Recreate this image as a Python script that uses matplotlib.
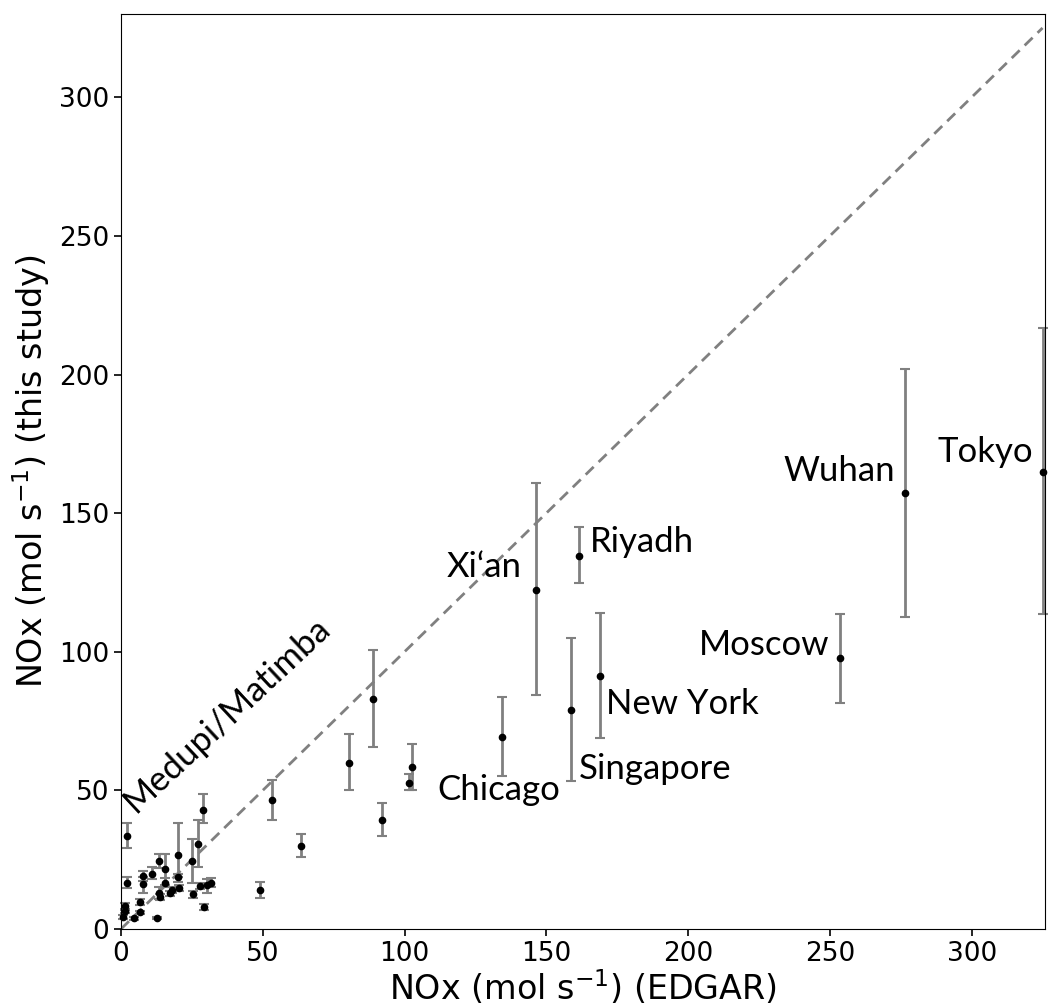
import numpy as np
import matplotlib
matplotlib.use("Agg")
import matplotlib.pyplot as plt

# EDGAR NOx vs NOx from this study (mol s-1), lower / upper bounds of the error bars
edgar = [2.2, 2.2, 1.6, 1.6, 0.8, 4.6, 6.7, 6.7, 7.6, 7.9,
         10.8, 12.6, 13.5, 13.5, 13.8, 15.7, 15.7, 17.3, 17.9, 20.0,
         20.2, 20.6, 24.9, 25.5, 27.2, 29.0, 27.8, 29.3, 30.2, 31.7,
         49.2, 53.4, 63.6, 80.3, 88.8, 92.1, 101.5, 102.7,
         134.3, 146.4, 158.7, 161.5, 169.0, 253.6, 276.6, 325.0]
study = [33.6, 16.5, 8.3, 6.6, 4.4, 3.9, 9.8, 6.0, 16.1, 19.2,
         19.8, 3.9, 24.4, 13.1, 11.6, 21.7, 16.7, 12.9, 14.0, 26.8,
         18.6, 14.9, 24.4, 12.6, 30.6, 43.1, 15.6, 8.0, 15.8, 16.7,
         14.0, 46.5, 29.9, 60.0, 83.1, 39.3, 52.7, 58.4,
         69.2, 122.4, 79.1, 134.7, 91.3, 97.7, 157.3, 165.0]
study_lo = [29.3, 14.7, 7.0, 5.8, 3.8, 3.4, 8.8, 5.4, 13.1, 17.5,
            18.0, 3.5, 22.0, 11.0, 10.5, 16.0, 15.0, 12.0, 13.0, 18.8,
            17.0, 13.8, 16.5, 11.3, 22.2, 38.1, 14.5, 7.0, 13.0, 15.0,
            11.1, 39.5, 26.0, 50.1, 65.6, 33.5, 50.3, 50.1,
            55.1, 84.5, 53.3, 124.7, 69.0, 81.6, 112.5, 113.7]
study_hi = [38.1, 18.6, 9.5, 7.4, 5.0, 4.4, 10.8, 6.6, 18.6, 21.0,
            22.5, 4.3, 27.0, 15.0, 12.8, 27.0, 18.5, 13.8, 15.0, 38.1,
            20.0, 16.0, 32.3, 13.8, 39.3, 48.6, 16.7, 9.0, 18.0, 18.5,
            17.0, 53.7, 34.1, 70.2, 100.5, 45.3, 55.8, 66.6,
            83.7, 160.9, 104.9, 144.9, 114.0, 113.7, 202.1, 216.7]

# labelled cities: name, index into the arrays, pixel offset of the text, alignment
cities = [("Chicago", 38, (58, -53), "right"),
          ("Xi\u2018an", 39, (-14, 23), "right"),
          ("Singapore", 40, (8, -59), "left"),
          ("Riyadh", 41, (11, 14), "left"),
          ("New York", 42, (6, -28), "left"),
          ("Moscow", 43, (-11, 13), "right"),
          ("Wuhan", 44, (-10, 22), "right"),
          ("Tokyo", 45, (-9, 20), "right")]

x = np.array(edgar)
y = np.array(study)
yerr = np.array([y - np.array(study_lo), np.array(study_hi) - y])

fig = plt.figure(figsize=(10.49, 10.06), dpi=100)
ax = fig.add_axes([0.1153, 0.0765, 0.8807, 0.9095])

ax.plot([0, 325], [0, 325], ls="--", color="grey", lw=2, dashes=(4, 2.5))
eb = ax.errorbar(x, y, yerr=yerr, fmt="o", color="black", ms=4.5,
                 ecolor="grey", elinewidth=2, capsize=3.5, capthick=1.5)
# keep the Tokyo bar near the right spine visible
for art in eb.lines[1] + eb.lines[2]:
    art.set_clip_on(False)
eb.lines[0].set_clip_on(False)

lab_font = dict(family=["Lato", "DejaVu Sans"], fontsize=25)
for name, i, off, ha in cities:
    ax.annotate(name, (x[i], y[i]), xytext=off, textcoords="offset pixels",
                ha=ha, va="center", **lab_font)

ax.text(6.5, 40, "Medupi/Matimba", rotation=43, rotation_mode="anchor",
        ha="left", va="bottom", **lab_font)

ax.set_xlim(0, 325.8)
ax.set_ylim(0, 330)
ax.set_xticks([0, 50, 100, 150, 200, 250, 300])
ax.set_yticks([0, 50, 100, 150, 200, 250, 300])
ax.tick_params(labelsize=19, width=1.2, length=5)
ax.set_xlabel("NOx (mol s$^{-1}$) (EDGAR)", fontsize=24, labelpad=1)
ax.set_ylabel("NOx (mol s$^{-1}$) (this study)", fontsize=24, labelpad=5)

fig.savefig("out.png", dpi=100)
